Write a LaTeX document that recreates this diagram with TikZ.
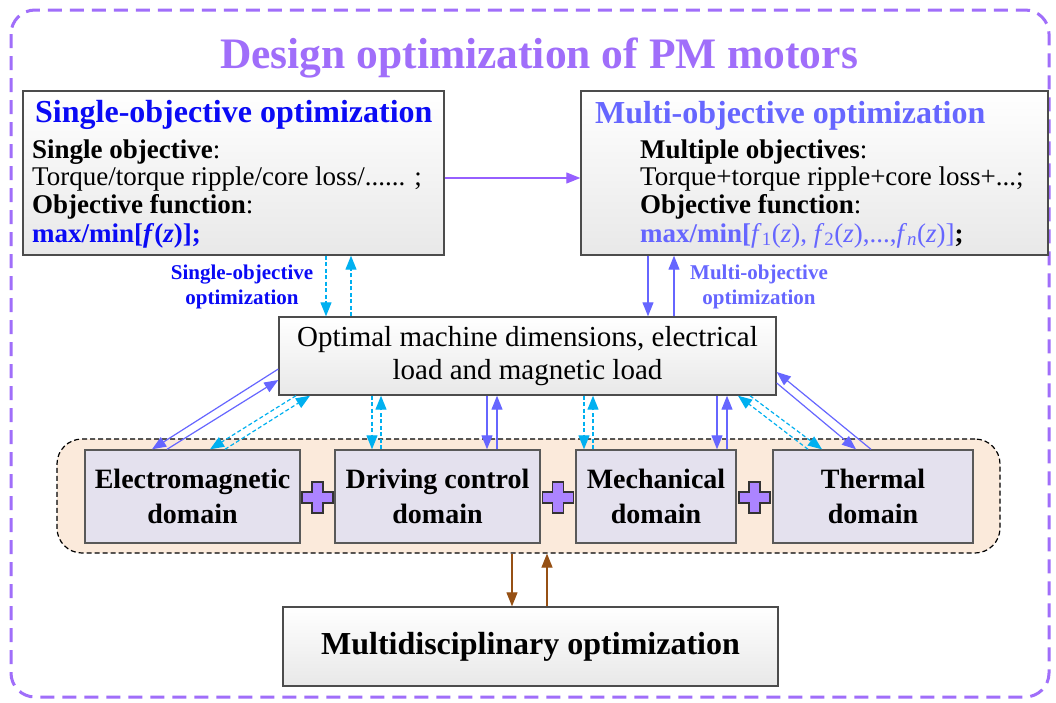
\documentclass[tikz,border=0pt]{standalone}
\usepackage{fontspec}
\setmainfont{Liberation Serif}
\usetikzlibrary{arrows.meta,calc}
\definecolor{violetT}{RGB}{160,110,250}
\definecolor{violetA}{RGB}{150,95,255}
\definecolor{blueS}{RGB}{10,10,245}
\definecolor{blueM}{RGB}{102,102,255}
\definecolor{cyanA}{RGB}{0,176,240}
\definecolor{brownA}{RGB}{150,80,20}
\definecolor{domfill}{RGB}{251,234,219}
\definecolor{boxfill}{RGB}{228,225,238}
\definecolor{plusfill}{RGB}{172,132,255}
\tikzset{
  mainbox/.style={draw=black!70, line width=1.4pt, top color=white, bottom color=black!9, inner sep=0pt},
  dombox/.style={draw=black!65, line width=1.4pt, fill=boxfill, inner sep=0pt, align=center,
     minimum height=93pt, font=\fontsize{28}{35}\selectfont\bfseries},
  tip/.style={-{Triangle[length=14pt,width=11pt]}},
  solidarr/.style={tip, draw=blueM, line width=1.2pt},
  singarr/.style={tip, draw=cyanA, line width=1.2pt, dash pattern=on 4pt off 2.5pt},
  brownarr/.style={tip, draw=brownA, line width=1.2pt},
  bodytext/.style={anchor=base west, inner sep=0pt, font=\fontsize{27}{28}\selectfont},
  lbl/.style={anchor=north, inner sep=0pt, align=center, font=\fontsize{21}{25}\selectfont\bfseries},
  plussign/.pic={\draw[line width=1.1pt, draw=black!80, fill=plusfill]
     (-15.5,-5.5) -- (-5.5,-5.5) -- (-5.5,-15.5) -- (5.5,-15.5) -- (5.5,-5.5) -- (15.5,-5.5) --
     (15.5,5.5) -- (5.5,5.5) -- (5.5,15.5) -- (-5.5,15.5) -- (-5.5,5.5) -- (-15.5,5.5) -- cycle;}
}
\begin{document}
\begin{tikzpicture}[x=1pt,y=-1pt]
\useasboundingbox (0,0) rectangle (1056,702);
\fill[white] (0,0) rectangle (1056,702);
% outer frame
\draw[violetT, line width=3pt, dash pattern=on 14pt off 8pt, rounded corners=24pt] (11,10) rectangle (1049,697);
\node[anchor=base, inner sep=0pt, text=violetT, font=\fontsize{43.5}{48}\selectfont\bfseries] (title) at (539,68) {Design optimization of PM motors};

% single-objective box
\node[mainbox, minimum width=421pt, minimum height=164pt] (single) at (233.5,173) {};
\node[bodytext, text=blueS, font=\fontsize{32}{34}\selectfont\bfseries] (stitle) at (35,122) {Single-objective optimization};
\node[bodytext] (s1) at (32,158) {\textbf{Single objective}:};
\node[bodytext] (s2) at (32,185) {Torque/torque ripple/core loss/...... ;};
\node[bodytext] (s3) at (32,213) {\textbf{Objective function}:};
\node[bodytext, text=blueS] (s4) at (32,242) {\textbf{max/min[\textit{f}(\textit{z})];}};

% multi-objective box
\node[mainbox, minimum width=467pt, minimum height=164pt] (multi) at (814.5,173) {};
\node[bodytext, text=blueM, font=\fontsize{32}{34}\selectfont\bfseries] (mtitle) at (595,123) {Multi-objective optimization};
\node[bodytext] (m1) at (640,158) {\textbf{Multiple objectives}:};
\node[bodytext] (m2) at (640,185) {Torque+torque ripple+core loss+...;};
\node[bodytext] (m3) at (640,213) {\textbf{Objective function}:};
\node[bodytext] (m4) at (640,242) {{\color{blueM}\textbf{max/min[}\textit{f}\textsubscript{1}(\textit{z}), \textit{f}\textsubscript{2}(\textit{z}),...,\textit{f}\textsubscript{\textit{n}}(\textit{z})]}\textbf{;}};

% middle box
\node[mainbox, minimum width=497pt, minimum height=78pt, align=center, font=\fontsize{29}{33}\selectfont] (mid) at (527.5,356) {Optimal machine dimensions, electrical\\load and magnetic load};

% domain container
\node[draw=black, line width=1.2pt, dash pattern=on 5pt off 3pt, fill=domfill, rounded corners=25pt,
      minimum width=943pt, minimum height=114pt, inner sep=0pt] (dom) at (528.5,496) {};
\node[dombox, minimum width=215pt] (em) at (192.5,496.5) {Electromagnetic\\domain};
\node[dombox, minimum width=205pt] (dc) at (437.5,496.5) {Driving control\\domain};
\node[dombox, minimum width=160pt] (mech) at (656,496.5) {Mechanical\\domain};
\node[dombox, minimum width=200pt] (th) at (873,496.5) {Thermal\\domain};
\pic at (317.5,497.5) {plussign};
\pic at (558,497.5) {plussign};
\pic at (754.5,497.5) {plussign};

% bottom box
\node[mainbox, minimum width=495pt, minimum height=79pt, font=\fontsize{32}{36}\selectfont\bfseries] (mdo) at (530.5,646.5) {Multidisciplinary optimization};

% labels
\node[lbl, text=blueS] (lsingle) at (242,265) {Single-objective\\optimization};
\node[lbl, text=blueM] (lmulti) at (759,265) {Multi-objective\\optimization};

% connectors
\draw[solidarr, draw=violetA] (single.east |- 0,178) -- (multi.west |- 0,178);
\draw[singarr] (single.south -| 326,0) -- (mid.north -| 326,0);
\draw[singarr] (mid.north -| 351,0) -- (single.south -| 351,0);
\draw[solidarr] (multi.south -| 648,0) -- (mid.north -| 648,0);
\draw[solidarr] (mid.north -| 674,0) -- (multi.south -| 674,0);

% electromagnetic
\draw[solidarr] (mid.west |- 0,369) -- (em.north -| 152,0);
\draw[solidarr] (em.north -| 167,0) -- (mid.west |- 0,380);
\draw[singarr] (mid.south -| 296,0) -- (em.north -| 210,0);
\draw[singarr] (em.north -| 225,0) -- (mid.south -| 310,0);
% driving control
\draw[singarr] (mid.south -| 372,0) -- (dc.north -| 372,0);
\draw[singarr] (dc.north -| 381,0) -- (mid.south -| 381,0);
\draw[solidarr] (mid.south -| 487,0) -- (dc.north -| 487,0);
\draw[solidarr] (dc.north -| 497,0) -- (mid.south -| 497,0);
% mechanical
\draw[singarr] (mid.south -| 584,0) -- (mech.north -| 584,0);
\draw[singarr] (mech.north -| 593,0) -- (mid.south -| 593,0);
\draw[solidarr] (mid.south -| 717,0) -- (mech.north -| 717,0);
\draw[solidarr] (mech.north -| 727,0) -- (mid.south -| 727,0);
% thermal
\draw[singarr] (mid.south -| 750,0) -- (th.north -| 822,0);
\draw[singarr] (th.north -| 808,0) -- (mid.south -| 738,0);
\draw[solidarr] (mid.east |- 0,383) -- (th.north -| 856,0);
\draw[solidarr] (th.north -| 871,0) -- (mid.east |- 0,372);
% multidisciplinary
\draw[brownarr] (dom.south -| 512,0) -- (mdo.north -| 512,0);
\draw[brownarr] (mdo.north -| 547,0) -- (dom.south -| 547,0);
\end{tikzpicture}
\end{document}
